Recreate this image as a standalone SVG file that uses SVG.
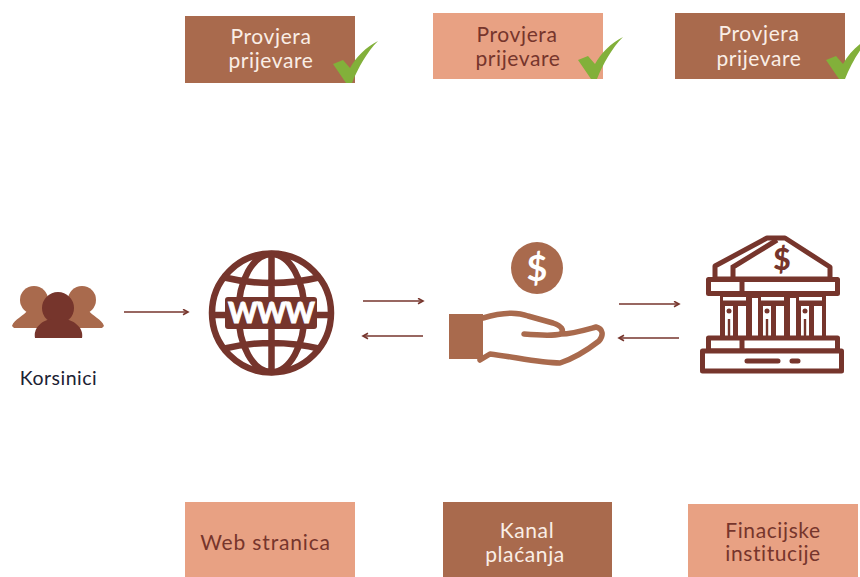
<svg xmlns="http://www.w3.org/2000/svg" width="860" height="577" viewBox="0 0 860 577">
<style>
text{font-family:"Lato","Liberation Sans",sans-serif;font-size:21px;text-anchor:middle;letter-spacing:.6px}
.dark{fill:#a96a4d}.light{fill:#e8a183}
.tl{fill:#faeee6}.td{fill:#76352c}
.chk{fill:#82b03a}
.conn{stroke:#76352c;stroke-width:1.3;fill:none;marker-end:url(#ah)}
.g{fill:none;stroke:#76352c;stroke-width:6.500}
.b{fill:#fff;stroke:#76352c;stroke-width:5;stroke-linejoin:round}
.bl{fill:none;stroke:#76352c;stroke-width:5}
.dk{fill:#76352c}.wh{fill:#fff}
</style>
<defs>
<marker id="ah" markerWidth="8" markerHeight="8" refX="6" refY="3.5" orient="auto" markerUnits="userSpaceOnUse"><path d="M1 .8L6 3.5L1 6.2" fill="none" stroke="#76352c" stroke-width="1.6"/></marker>
<path id="check" d="M0 1L10 -3L17 5C23 -6 33 -16 45 -22C34 -11 25 5 19 20L13 20Z"/>
<g id="col">
<rect class="wh" x="723" y="297" width="23" height="3.500"/>
<rect class="wh" x="725" y="306" width="8" height="30"/>
<rect class="wh" x="738" y="306" width="8" height="30"/>
<rect class="wh" x="752" y="298" width="6" height="38"/>
<circle class="dk" cx="729" cy="311" r="2.500"/>
<rect class="dk" x="727.800" y="319" width="2.400" height="18"/>
</g>
</defs>
<rect width="860" height="577" fill="#fff"/>

<g id="connectors">
<path class="conn" d="M124 312H188"/>
<path class="conn" d="M363 301H423"/>
<path class="conn" d="M423 336H363"/>
<path class="conn" d="M619 304H679"/>
<path class="conn" d="M679 338H619"/>
</g>

<g id="check-top-1">
<rect class="dark" x="185" y="16" width="170" height="67"/>
<text class="tl" x="271" y="44">Provjera</text><text class="tl" x="271" y="68">prijevare</text>
<use href="#check" class="chk" x="333" y="63"/>
</g>
<g id="check-top-2">
<rect class="light" x="433" y="13" width="170" height="66"/>
<text class="td" x="517" y="42">Provjera</text><text class="td" x="518" y="66">prijevare</text>
<use href="#check" class="chk" x="578" y="59"/>
</g>
<g id="check-top-3">
<rect class="dark" x="675" y="13" width="170" height="66"/>
<text class="tl" x="759" y="41">Provjera</text><text class="tl" x="759" y="66">prijevare</text>
<use href="#check" class="chk" x="826" y="59"/>
</g>

<g id="users">
<g fill="#a96a4d">
<circle cx="34" cy="300" r="14"/><path d="M12 326C14 319 24 316 28 310H44L50 328H14Z"/>
<circle cx="82" cy="300" r="14"/><path d="M104 326C102 319 92 316 88 310H72L66 328H102Z"/>
</g>
<g fill="#76352c">
<circle cx="58" cy="308" r="16"/><path d="M35 338C33 328 42 320 52 319H64C74 320 84 328 82 338Z"/>
</g>
<text x="58.500" y="385" style="font-size:19.500px;fill:#1c2233;letter-spacing:.5px">Korsinici</text>
</g>

<g id="web">
<circle class="g" cx="271.500" cy="313" r="59.500"/>
<ellipse class="g" cx="271.500" cy="313" rx="33" ry="59"/>
<path class="g" d="M271.500 253V373M222 277C255 285 288 285 321 277M222 349C255 341 288 341 321 349M212 315H331"/>
<rect x="225" y="297" width="92" height="32" rx="3" fill="#76352c"/>
<text x="271" y="323" style="font-size:28px;font-weight:900;fill:#fff;stroke:#fff;stroke-width:.8;letter-spacing:-1px">WWW</text>
</g>

<g id="payment">
<circle cx="537" cy="268" r="26" fill="#a96a4d"/>
<text x="537" y="281" style="font-size:36px;font-weight:700;fill:#fff;letter-spacing:0">$</text>
<rect x="449" y="314" width="34" height="45" fill="#a96a4d"/>
<path d="M483 318C500 313 515 311 528 316L553 323C562 326 564 330 561 334C553 336 536 335 524 334M561 334C572 334 585 330 596 327C603 329 604 335 599 341C590 348 575 358 560 363C540 363 515 357 490 354L480 360" fill="none" stroke="#a96a4d" stroke-width="5.500" stroke-linejoin="round" stroke-linecap="round"/>
</g>

<g id="bank">
<path class="b" d="M715 279V266L767 238H785L830 267V279Z"/>
<path class="bl" d="M733 279V267L777 240"/>
<text x="782" y="270" style="font-size:30px;font-weight:900;fill:#76352c;letter-spacing:0">$</text>
<rect class="dk" x="720" y="292" width="106" height="47"/>
<use href="#col"/>
<use href="#col" x="38"/>
<use href="#col" x="76"/>
<rect class="wh" x="828" y="298" width="6" height="38"/>
<rect class="b" x="708.500" y="279.500" width="129" height="14"/>
<path class="bl" d="M742 279V294"/>
<rect class="b" x="708.500" y="338" width="129" height="13"/>
<path class="bl" d="M742 338V351"/>
<rect class="b" x="702.500" y="351" width="139" height="20"/>
<path d="M747 361H778M792 361H798" fill="none" stroke="#76352c" stroke-width="5" stroke-linecap="round"/>
</g>

<g id="label-web">
<rect class="light" x="185" y="502" width="170" height="75"/>
<text class="td" x="265.500" y="550" style="letter-spacing:.85px">Web stranica</text>
</g>
<g id="label-channel">
<rect class="dark" x="443" y="502" width="169" height="75"/>
<text class="tl" x="527" y="538">Kanal</text><text class="tl" x="525" y="562">plaćanja</text>
</g>
<g id="label-finance">
<rect class="light" x="688" y="504" width="170" height="73"/>
<text class="td" x="773" y="538">Finacijske</text><text class="td" x="773" y="561">institucije</text>
</g>
</svg>
